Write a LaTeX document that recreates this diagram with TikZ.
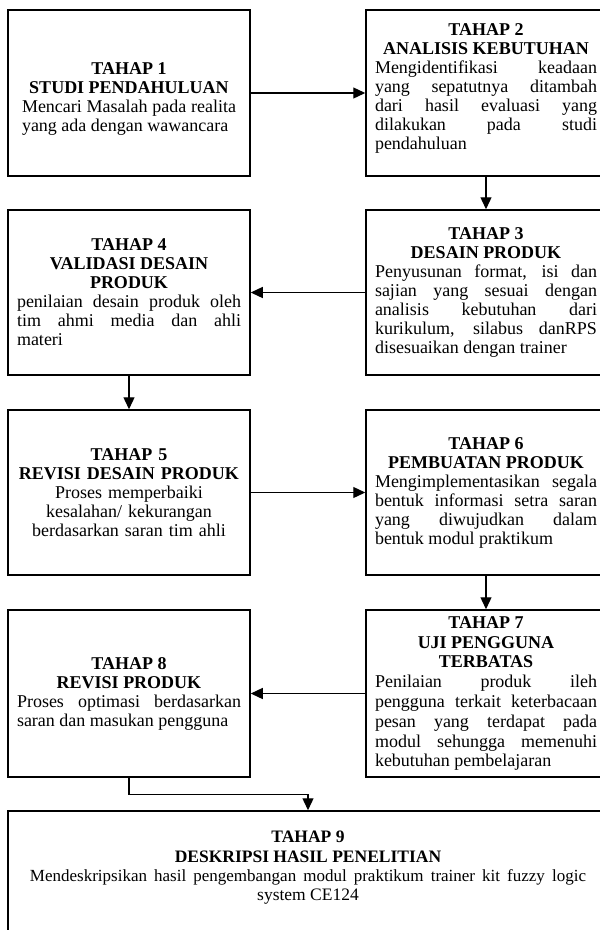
\documentclass[tikz,border=0pt]{standalone}
\usepackage{fontspec}
\setmainfont{Liberation Serif}
\usetikzlibrary{arrows,arrows.meta}
\hbadness=10000
\hyphenpenalty=10000
\exhyphenpenalty=10000

\begin{document}
\begin{tikzpicture}[x=1pt,y=-1pt]
			\tikzstyle{stage}=[draw,line width=1.5pt,align=justify,inner sep=3pt,font=\fontsize{18}{19}\selectfont]
			\tikzstyle{flow}=[line width=1.3pt,->,>={Triangle[length=12pt,width=11pt]}]
			\useasboundingbox (0,0) rectangle (600,930);
			\clip (0,0) rectangle (600,930);
				\node [stage,minimum width=242pt,minimum height=166pt,text width=214pt] (1) at (129,93) {{\centering\bfseries\rule{0pt}{23pt}TAHAP 1\par STUDI PENDAHULUAN\par}Mencari Masalah pada realita yang ada dengan wawancara};
				\node [stage,minimum width=240pt,minimum height=166pt,text width=222pt] (2) at (486,93) {{\centering\bfseries TAHAP 2\par ANALISIS KEBUTUHAN\par}Mengidentifikasi keadaan\linebreak yang sepatutnya ditambah\linebreak dari hasil evaluasi yang\linebreak dilakukan pada studi\linebreak pendahuluan\rule[-13pt]{0pt}{13pt}};
				\node [stage,minimum width=240pt,minimum height=165pt,text width=222pt] (3) at (486,292.5) {{\centering\bfseries TAHAP 3\par DESAIN PRODUK\par}Penyusunan format, isi dan\linebreak sajian yang sesuai dengan\linebreak analisis kebutuhan dari\linebreak kurikulum, silabus danRPS\linebreak disesuaikan dengan trainer};
				\node [stage,minimum width=242pt,minimum height=165pt,text width=224pt] (4) at (129,292.5) {{\centering\bfseries TAHAP 4\par VALIDASI DESAIN\par PRODUK\par}penilaian desain produk oleh\linebreak tim ahmi media dan ahli\linebreak materi};
				\node [stage,align=center,minimum width=242pt,minimum height=165pt,text width=224pt] (5) at (129,492.5) {\textbf{TAHAP 5}\\ \textbf{REVISI DESAIN PRODUK}\\ Proses memperbaiki\\ kesalahan/ kekurangan\\ berdasarkan saran tim ahli};
				\node [stage,minimum width=240pt,minimum height=165pt,text width=222pt] (6) at (486,492.5) {{\centering\bfseries TAHAP 6\par PEMBUATAN PRODUK\par}Mengimplementasikan segala\linebreak bentuk informasi setra saran\linebreak yang diwujudkan dalam\linebreak bentuk modul praktikum};
				\node [stage,font=\fontsize{18}{19.8}\selectfont,minimum width=240pt,minimum height=167pt,text width=222pt] (7) at (486,693.5) {{\centering\bfseries TAHAP 7\par UJI PENGGUNA\par TERBATAS\par}Penilaian produk ileh\linebreak pengguna terkait keterbacaan\linebreak pesan yang terdapat pada\linebreak modul sehungga memenuhi\linebreak kebutuhan pembelajaran};
				\node [stage,minimum width=242pt,minimum height=167pt,text width=224pt] (8) at (129,693.5) {{\centering\bfseries TAHAP 8\par REVISI PRODUK\par}Proses optimasi berdasarkan\linebreak saran dan masukan pengguna};
				\node [stage,font=\fontsize{17.5}{19.4}\selectfont,minimum width=600pt,minimum height=130pt,text width=556pt] (9) at (308,876) {{\centering\bfseries TAHAP 9\par DESKRIPSI HASIL PENELITIAN\par}{\fontsize{17}{19.4}\selectfont\parfillskip=0pt Mendeskripsikan hasil pengembangan modul praktikum trainer kit fuzzy logic\par}{\centering system CE124\rule[-20pt]{0pt}{20pt}\par}};
				\draw [flow] (1) -- (2);
				\draw [flow] (2) -- (3);
				\draw [flow] (3) -- (4);
				\draw [flow] (4) -- (5);
				\draw [flow] (5) -- (6);
				\draw [flow] (6) -- (7);
				\draw [flow] (7) -- (8);
				\draw [flow] (8.south) -- ++(0,17) -| (9.north);
	\end{tikzpicture}
\end{document}
